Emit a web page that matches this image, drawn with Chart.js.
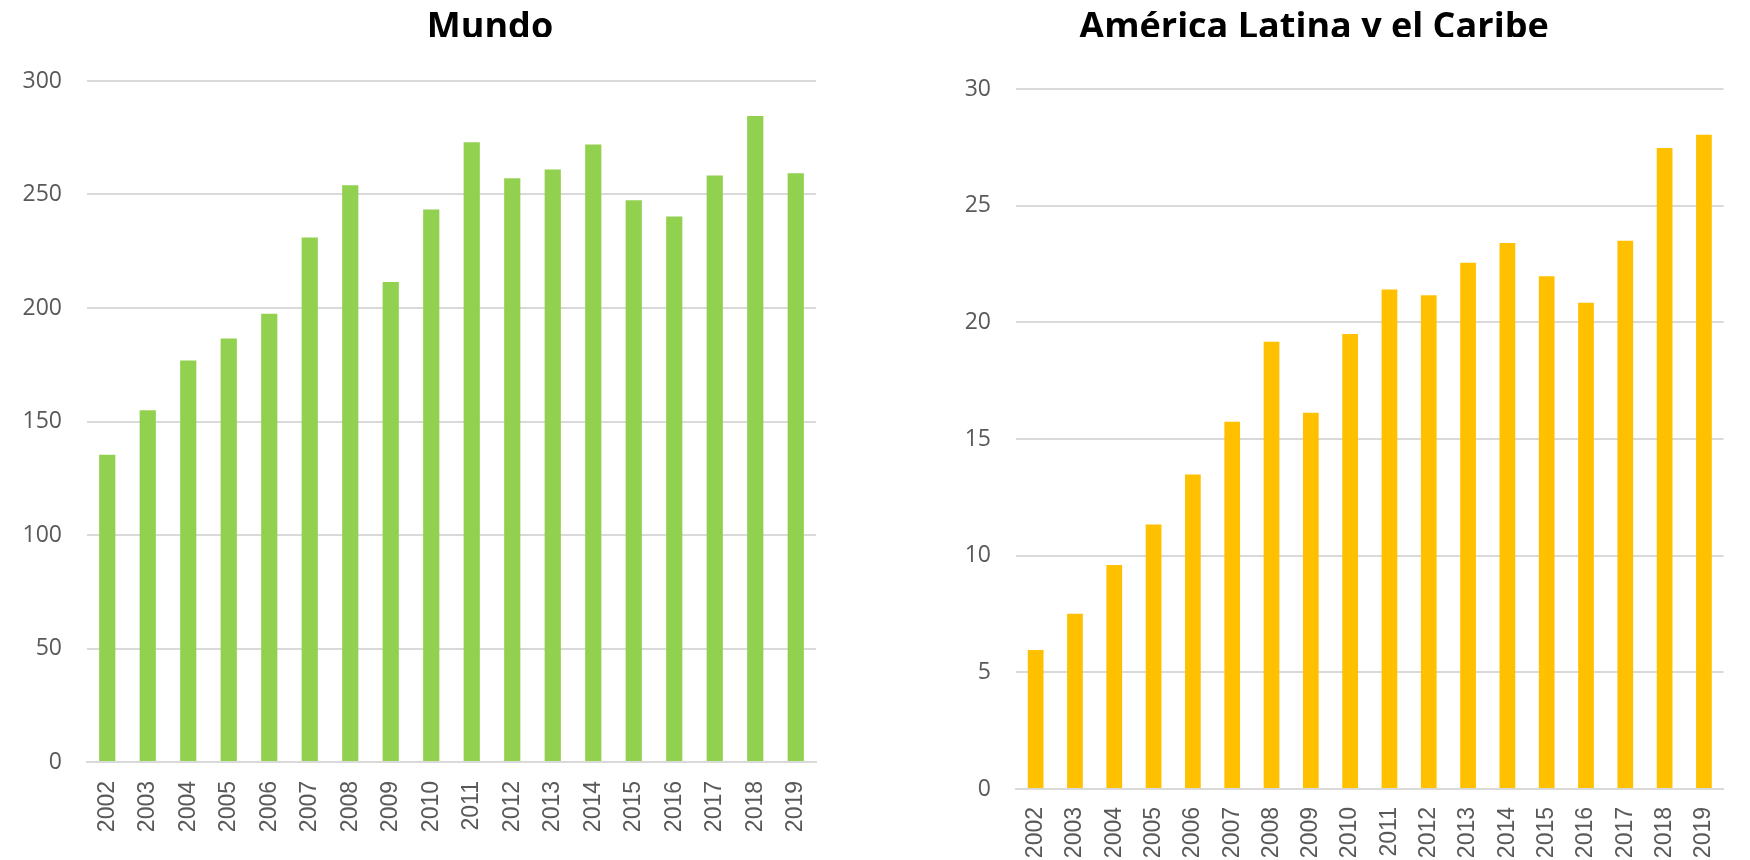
<!DOCTYPE html>
<html>
<head>
<meta charset="utf-8">
<script src="https://cdn.jsdelivr.net/npm/chart.js@4"></script>
<style>
  html, body { margin: 0; padding: 0; background: #fff; }
  body { width: 1750px; height: 860px; position: relative; overflow: hidden; }
  canvas { position: absolute; top: 0; }
  #mundoChart { left: 0; }
  #alcChart { left: 900px; }
</style>
</head>
<body>
<canvas id="mundoChart" width="900" height="860"></canvas>
<canvas id="alcChart" width="850" height="860"></canvas>
<script>
const years = ['2002', '2003', '2004', '2005', '2006', '2007', '2008', '2009', '2010',
    '2011', '2012', '2013', '2014', '2015', '2016', '2017', '2018', '2019'];
const mundo = [135.4, 155.0, 176.9, 186.6, 197.5, 231.1, 254.1, 211.4, 243.4,
    273.0, 257.2, 261.0, 272.0, 247.5, 240.3, 258.4, 284.6, 259.4];
const americaLatina = [5.96, 7.51, 9.60, 11.34, 13.48, 15.74, 19.17, 16.13, 19.50,
    21.41, 21.16, 22.55, 23.40, 21.97, 20.84, 23.50, 27.47, 28.04];
const titleMundo = 'Mundo';
const titleAlc = 'América Latina y el Caribe';

const textColor = '#595959';
const gridColor = '#d9d9d9';

// title is cut off just above its baseline in the original, so draw it clipped
const clippedTitle = {
    id: 'clippedTitle',
    afterDraw(chart, args, opts) {
        const ctx = chart.ctx;
        ctx.save();
        ctx.beginPath();
        ctx.rect(0, 0, chart.width, opts.clipBottom);
        ctx.clip();
        ctx.font = 'bold 36px "Open Sans"';
        ctx.fillStyle = '#000';
        ctx.textAlign = 'center';
        ctx.textBaseline = 'alphabetic';
        ctx.fillText(opts.text, opts.x, opts.baseline);
        ctx.restore();
    }
};

function makeChart(id, title, titleX, data, color, yMax, yStep, layout) {
    const ctx = document.getElementById(id).getContext('2d');
    return new Chart(ctx, {
        type: 'bar',
        data: {
            labels: years,
            datasets: [{
                data: data,
                backgroundColor: color,
                borderWidth: 0,
                categoryPercentage: 1,
                barPercentage: 0.4,
            }]
        },
        options: {
            responsive: false,
            animation: false,
            devicePixelRatio: 1,
            layout: {
                padding: { top: layout.top, right: layout.right, left: 0, bottom: 0 }
            },
            plugins: {
                legend: { display: false },
                tooltip: { enabled: false },
                title: { display: false },
                clippedTitle: { text: title, x: titleX, baseline: 38, clipBottom: 37 }
            },
            scales: {
                x: {
                    grid: { display: false, drawTicks: false },
                    border: { display: true, color: gridColor, width: 2 },
                    ticks: {
                        color: textColor,
                        font: { family: '"Liberation Sans", Arial', size: 23 },
                        minRotation: 90,
                        maxRotation: 90,
                        padding: layout.xPad,
                        autoSkip: false
                    },
                    afterFit(scale) { scale.height = layout.xHeight; }
                },
                y: {
                    min: 0,
                    max: yMax,
                    grid: { color: gridColor, lineWidth: 2, drawTicks: false },
                    border: { display: false },
                    ticks: {
                        stepSize: yStep,
                        color: textColor,
                        font: { family: '"Open Sans"', size: 23 },
                        padding: 25
                    },
                    afterFit(scale) { scale.width = layout.yWidth; }
                }
            }
        },
        plugins: [clippedTitle]
    });
}

function createCharts() {
    makeChart('mundoChart', titleMundo, 490, mundo, '#92d050', 300, 50,
        { top: 81, right: 84, yWidth: 87, xHeight: 98, xPad: 19 });
    makeChart('alcChart', titleAlc, 414, americaLatina, '#ffc000', 30, 5,
        { top: 89, right: 17, yWidth: 116, xHeight: 71, xPad: 18 });
}

document.addEventListener('DOMContentLoaded', () => {
    Promise.all([
        document.fonts.load('bold 36px "Open Sans"'),
        document.fonts.load('23px "Open Sans"'),
        document.fonts.load('23px "Liberation Sans"')
    ]).then(createCharts, createCharts);
});
</script>
</body>
</html>
